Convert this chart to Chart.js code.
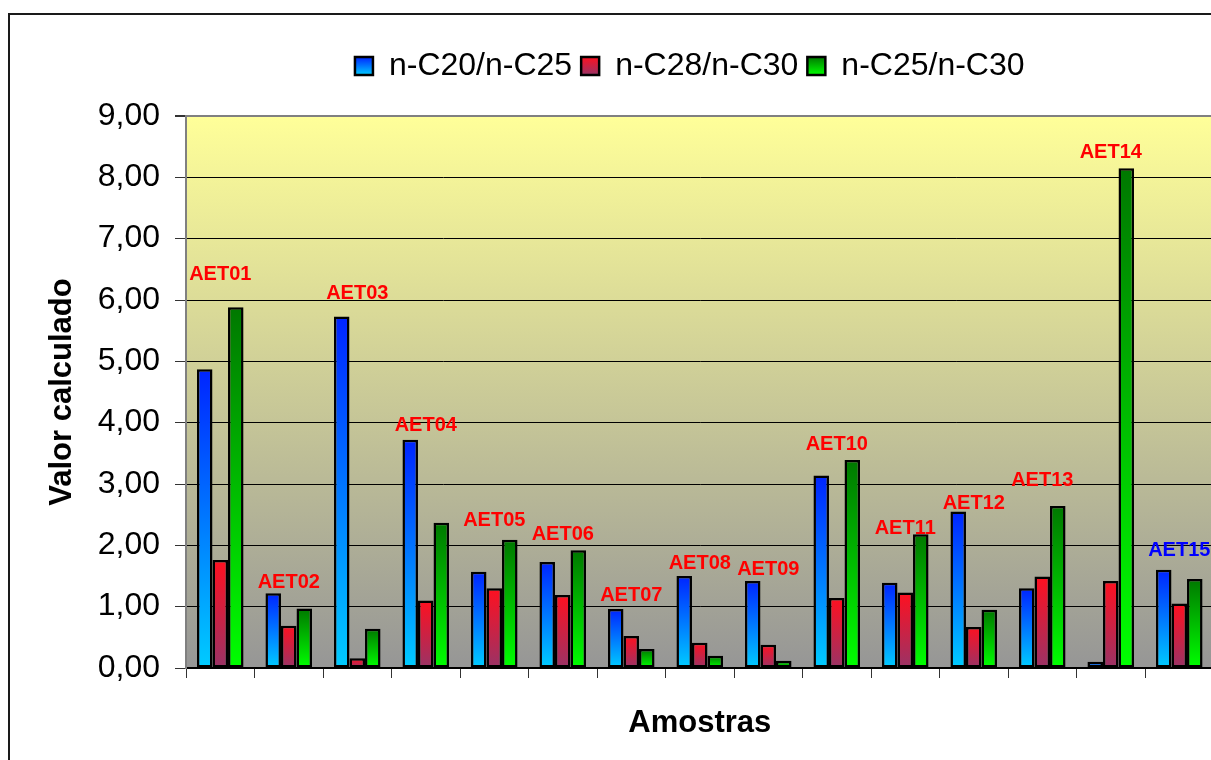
<!DOCTYPE html>
<html>
<head>
<meta charset="utf-8">
<script src="https://cdn.jsdelivr.net/npm/chart.js@4"></script>
<style>
html,body{margin:0;padding:0;background:#fff;overflow:hidden;width:1211px;height:760px}
#wrap{position:absolute;left:0;top:0;width:1230px;height:760px}
canvas{display:block}
</style>
</head>
<body>
<div id="wrap"><canvas id="c" width="1230" height="760"></canvas></div>
<script>
// ---------- data ----------
const categories = ['AET01','AET02','AET03','AET04','AET05','AET06','AET07','AET08','AET09','AET10','AET11','AET12','AET13','AET14','AET15'];
const seriesNames = ['n-C20/n-C25','n-C28/n-C30','n-C25/n-C30'];
const c20c25 = [4.87,1.22,5.73,3.72,1.57,1.73,0.96,1.50,1.42,3.14,1.39,2.55,1.30,0.10,1.60];
const c28c30 = [1.76,0.69,0.16,1.10,1.30,1.19,0.52,0.41,0.38,1.14,1.23,0.67,1.49,1.42,1.05];
const c25c30 = [5.88,0.97,0.64,2.37,2.09,1.92,0.31,0.20,0.12,3.39,2.18,0.95,2.64,8.15,1.45];
// value level (in axis units) at which each sample's annotation text sits
const labelLevels = [6.42,1.40,6.11,3.95,2.41,2.18,1.19,1.71,1.60,3.65,2.28,2.69,3.05,8.41,1.91];
const yTickLabels = ['0,00','1,00','2,00','3,00','4,00','5,00','6,00','7,00','8,00','9,00'];

// ---------- styles ----------
const FONT = "'Liberation Sans', Arial, sans-serif";
const GRADS = [
  ['#0024FF', '#00CCFF'],
  ['#FF1020', '#993366'],
  ['#007800', '#00FF00']
];
const LABEL_STYLE = { color: '#FF0000', lastColor: '#0000FF', font: 'bold 20px ' + FONT };
const LEG = { font: 32, box: 18, pad: 9 };

Chart.defaults.font.family = FONT;
Chart.defaults.color = '#000';

function barGradient(colors) {
  return (ctx) => {
    const chart = ctx.chart;
    const y = chart.scales && chart.scales.y;
    if (ctx.type !== 'data' || !y || !chart.chartArea) return colors[0];
    const top = y.getPixelForValue(ctx.raw);
    const base = y.getPixelForValue(0);
    if (!isFinite(top) || !isFinite(base) || Math.abs(base - top) < 0.5) return colors[1];
    const g = chart.ctx.createLinearGradient(0, top, 0, base);
    g.addColorStop(0, colors[0]);
    g.addColorStop(1, colors[1]);
    return g;
  };
}

const seriesValues = [c20c25, c28c30, c25c30];
const datasets = seriesNames.map((name, i) => ({
  label: name,
  data: seriesValues[i],
  backgroundColor: barGradient(GRADS[i]),
  borderColor: '#000',
  borderWidth: 2.5,
  borderSkipped: false,
  categoryPercentage: 0.68,
  barPercentage: 1.0
}));

const backgroundPlugin = {
  id: 'bg',
  afterLayout(chart) {
    const lg = chart.legend;
    if (lg) { lg.left -= 10; lg.right -= 10; }
  },
  beforeDraw(chart) {
    const ctx = chart.ctx;
    const a = chart.chartArea;
    ctx.save();
    ctx.fillStyle = '#fff';
    ctx.fillRect(0, 0, chart.width, chart.height);
    const g = ctx.createLinearGradient(0, a.top, 0, a.bottom);
    g.addColorStop(0, '#FFFF99');
    g.addColorStop(1, '#969696');
    ctx.fillStyle = g;
    ctx.fillRect(a.left, a.top, a.right - a.left, a.bottom - a.top);
    ctx.strokeStyle = '#1a1a1a';
    ctx.lineWidth = 2;
    ctx.strokeRect(9, 14, 3000, 3000);
    ctx.restore();
  },
  afterDatasetsDraw(chart) {
    const ctx = chart.ctx;
    const xs = chart.scales.x, ys = chart.scales.y;
    ctx.save();
    ctx.font = LABEL_STYLE.font;
    ctx.textAlign = 'center';
    ctx.textBaseline = 'middle';
    categories.forEach((name, i) => {
      ctx.fillStyle = i === categories.length - 1 ? LABEL_STYLE.lastColor : LABEL_STYLE.color;
      ctx.fillText(name, xs.getPixelForValue(i), ys.getPixelForValue(labelLevels[i]));
    });
    ctx.restore();
  }
};

new Chart(document.getElementById('c'), {
  type: 'bar',
  data: { labels: categories, datasets },
  options: {
    responsive: false,
    animation: false,
    devicePixelRatio: 1,
    layout: { padding: { top: 41, left: 0, right: 16.5, bottom: 0 } },
    plugins: {
      tooltip: { enabled: false },
      title: { display: false },
      subtitle: {
        display: true, text: '', position: 'top',
        font: { size: 10 }, padding: { top: 12, bottom: 0 }
      },
      legend: {
        display: true,
        position: 'top',
        fullSize: false,
        weight: 3000,
        labels: {
          font: { size: LEG.font },
          color: '#000',
          boxWidth: LEG.box,
          boxHeight: LEG.box,
          padding: LEG.pad,
          generateLabels(chart) {
            const lg = chart.legend;
            const top = (lg && isFinite(lg.top)) ? lg.top + LEG.pad + (LEG.font - LEG.box) / 2 : 56;
            return chart.data.datasets.map((ds, i) => {
              const g = chart.ctx.createLinearGradient(0, top, 0, top + LEG.box);
              g.addColorStop(0, GRADS[i][0]);
              g.addColorStop(1, GRADS[i][1]);
              return {
                text: ds.label, fillStyle: g, strokeStyle: '#000', lineWidth: 2.5,
                hidden: !chart.isDatasetVisible(i), datasetIndex: i, fontColor: '#000'
              };
            });
          }
        }
      }
    },
    scales: {
      x: {
        type: 'category',
        offset: true,
        ticks: { display: false },
        grid: { drawOnChartArea: false, drawTicks: true, tickLength: 10, color: '#333', offset: true },
        border: { color: '#000', width: 2 },
        title: {
          display: true, text: 'Amostras', color: '#000',
          font: { size: 31, weight: 'bold' },
          padding: { top: 0, bottom: 18.4 }
        },
        afterFit(scale) { scale.height = 92; }
      },
      y: {
        min: 0, max: 9,
        ticks: {
          stepSize: 1,
          padding: 15,
          color: '#000',
          font: { size: 32 },
          callback: (v, idx) => yTickLabels[idx]
        },
        grid: {
          color: (c) => (c.tick && c.tick.value === 9) ? '#808080' : '#000',
          lineWidth: (c) => (c.tick && c.tick.value === 9) ? 2 : 1,
          tickColor: '#333',
          tickLength: 11,
          drawTicks: true
        },
        border: { color: '#808080', width: 2 },
        title: {
          display: true, text: 'Valor calculado', color: '#000',
          font: { size: 31, weight: 'bold' },
          padding: { top: 43.4, bottom: 0 }
        },
        afterFit(scale) { scale.width = 186; }
      }
    }
  },
  plugins: [backgroundPlugin]
});
</script>
</body>
</html>
